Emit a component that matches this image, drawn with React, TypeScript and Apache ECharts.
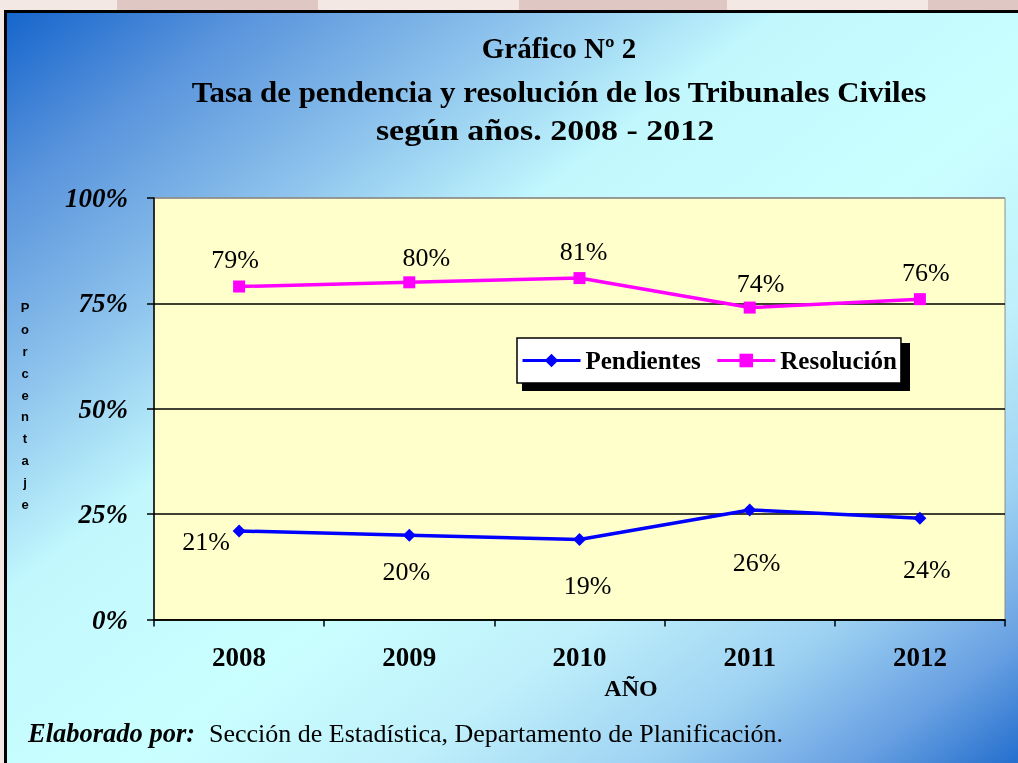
import React, { useEffect, useRef } from "react";
import * as echarts from "echarts";

const categories = ["2008", "2009", "2010", "2011", "2012"];
const pendientes = [21, 20, 19, 26, 24];
const resolucion = [79, 80, 81, 74, 76];
const seriesNames = ["Pendientes", "Resolución"];
const titleLines = [
  "Gráfico Nº 2",
  "Tasa de pendencia y resolución de los Tribunales Civiles",
  "según años. 2008 - 2012",
];
const yAxisTitle = "Porcentaje";
const xAxisTitle = "AÑO";
const sourceLabel = "Elaborado por:";
const sourceText = "Sección de Estadística, Departamento de Planificación.";

// label placement (layout only)
const pendLabelOffsets = [[-33, 11], [-3, 36], [8, 46], [7, 53], [7, 51]];
const resLabelOffsets = [[-4, -27], [17, -25], [4, -27], [11, -24], [6, -27]];
const titleLayout = [
  { x: 559, y: 48, sx: 1.0 },
  { x: 559, y: 92, sx: 1.065 },
  { x: 545, y: 130, sx: 1.17 },
];

const SERIF = "'Liberation Serif', 'Times New Roman', serif";

export default function App() {
  const ref = useRef<HTMLDivElement>(null);
  useEffect(() => {
    if (!ref.current) return;
    const chart = echarts.init(ref.current, undefined, { renderer: "svg" });
    const bg = new echarts.graphic.LinearGradient(0, 0, 1, 1, [
      { offset: 0, color: "#1565cc" },
      { offset: 0.12, color: "#5a94dc" },
      { offset: 0.25, color: "#8cc2ec" },
      { offset: 0.38, color: "#c2f8fd" },
      { offset: 0.55, color: "#caffff" },
      { offset: 0.68, color: "#bff0fb" },
      { offset: 0.8, color: "#9ed2f2" },
      { offset: 0.9, color: "#68a0e2" },
      { offset: 1, color: "#1262c8" },
    ]);
    const mkData = (vals: number[], offs: number[][]) =>
      vals.map((v, i) => ({
        value: v,
        label: { offset: offs[i] },
      }));
    const labelCommon = {
      show: true,
      position: "inside" as const,
      formatter: "{c}%",
      fontFamily: SERIF,
      fontSize: 26,
      color: "#000",
    };
    const centerText = (text: string, x: number, y: number, extra: any) => ({
      type: "text",
      z: 10,
      x,
      y,
      ...extra.el,
      style: {
        text,
        x: 0,
        y: 0,
        fontFamily: SERIF,
        fill: "#000",
        align: "center",
        verticalAlign: "middle",
        textAlign: "center",
        textVerticalAlign: "middle",
        ...extra.style,
      },
    });
    chart.setOption({
      animation: false,
      graphic: [
        { type: "rect", z: -30, shape: { x: 0, y: 0, width: 1018, height: 763 }, style: { fill: "#f4e8e5" } },
        { type: "rect", z: -29, shape: { x: 117, y: 0, width: 201, height: 11 }, style: { fill: "#dfc8c4" } },
        { type: "rect", z: -29, shape: { x: 519, y: 0, width: 208, height: 11 }, style: { fill: "#dfc8c4" } },
        { type: "rect", z: -29, shape: { x: 928, y: 0, width: 100, height: 11 }, style: { fill: "#dfc8c4" } },
        {
          type: "rect",
          z: -20,
          shape: { x: 5.5, y: 11.5, width: 1030, height: 770 },
          style: { fill: bg, stroke: "#000", lineWidth: 3 },
        },
        ...titleLines.map((t, i) =>
          centerText(t, titleLayout[i].x, titleLayout[i].y, {
            el: { scaleX: titleLayout[i].sx },
            style: { fontWeight: "bold", fontSize: 29 },
          })
        ),
        centerText(yAxisTitle.split("").join("\n"), 25, 406, {
          el: {},
          style: {
            fontFamily: "'Liberation Sans', Arial, sans-serif",
            fontWeight: "bold",
            fontSize: 13,
            lineHeight: 21.9,
          },
        }),
        centerText(xAxisTitle, 631, 688, {
          el: {},
          style: { fontWeight: "bold", fontSize: 24 },
        }),
        {
          type: "text",
          z: 10,
          style: {
            text: sourceLabel,
            x: 28,
            y: 733,
            fontFamily: SERIF,
            fontWeight: "bold",
            fontStyle: "italic",
            fontSize: 26.5,
            fill: "#000",
            align: "left",
            verticalAlign: "middle",
            textAlign: "left",
            textVerticalAlign: "middle",
          },
        },
        {
          type: "text",
          z: 10,
          style: {
            text: sourceText,
            x: 209,
            y: 733,
            fontFamily: SERIF,
            fontSize: 26,
            fill: "#000",
            align: "left",
            verticalAlign: "middle",
            textAlign: "left",
            textVerticalAlign: "middle",
          },
        },
        {
          type: "rect",
          z: 3,
          shape: { x: 522, y: 343, width: 388, height: 48 },
          style: { fill: "#000" },
        },
      ],
      grid: {
        left: 154,
        right: 13,
        top: 198,
        bottom: 143.5,
        show: true,
        backgroundColor: "#ffffcc",
        borderColor: "#8c8c8c",
        borderWidth: 1,
      },
      legend: {
        left: 517,
        top: 338,
        padding: [10, 4],
        itemGap: 15,
        itemWidth: 58,
        itemHeight: 17,
        backgroundColor: "#ffffff",
        borderColor: "#000",
        borderWidth: 1.5,
        data: seriesNames,
        lineStyle: { width: 3 },
        textStyle: {
          fontFamily: SERIF,
          fontWeight: "bold",
          fontSize: 25,
          color: "#000",
        },
      },
      xAxis: {
        type: "category",
        data: categories,
        boundaryGap: true,
        axisLine: { lineStyle: { color: "#000", width: 1.5 } },
        axisTick: { show: true, length: 7, lineStyle: { color: "#000", width: 1.5 } },
        axisLabel: {
          margin: 24,
          fontFamily: SERIF,
          fontWeight: "bold",
          fontSize: 27,
          color: "#000",
        },
        splitLine: { show: false },
      },
      yAxis: {
        type: "value",
        min: 0,
        max: 100,
        interval: 25,
        axisLine: { show: true, lineStyle: { color: "#000", width: 1.5 } },
        axisTick: { show: true, length: 7, lineStyle: { color: "#000", width: 1.5 } },
        axisLabel: {
          margin: 26,
          formatter: "{value}%",
          fontFamily: SERIF,
          fontWeight: "bold",
          fontStyle: "italic",
          fontSize: 27,
          color: "#000",
        },
        splitLine: {
          show: true,
          lineStyle: { color: ["#000", "#000", "#000", "#000", "#8c8c8c"], width: 1.5 },
        },
      },
      series: [
        {
          name: seriesNames[0],
          type: "line",
          data: mkData(pendientes, pendLabelOffsets),
          symbol: "diamond",
          symbolSize: 13,
          lineStyle: { color: "#0000ff", width: 3.5 },
          itemStyle: { color: "#0000ff" },
          label: labelCommon,
          z: 5,
        },
        {
          name: seriesNames[1],
          type: "line",
          data: mkData(resolucion, resLabelOffsets),
          symbol: "rect",
          symbolSize: 12,
          lineStyle: { color: "#ff00ff", width: 3.5 },
          itemStyle: { color: "#ff00ff" },
          label: labelCommon,
          z: 5,
        },
      ],
    });
    return () => chart.dispose();
  }, []);
  return (
    <div
      ref={ref}
      style={{ position: "fixed", left: 0, top: 0, width: 1018, height: 763 }}
    />
  );
}
